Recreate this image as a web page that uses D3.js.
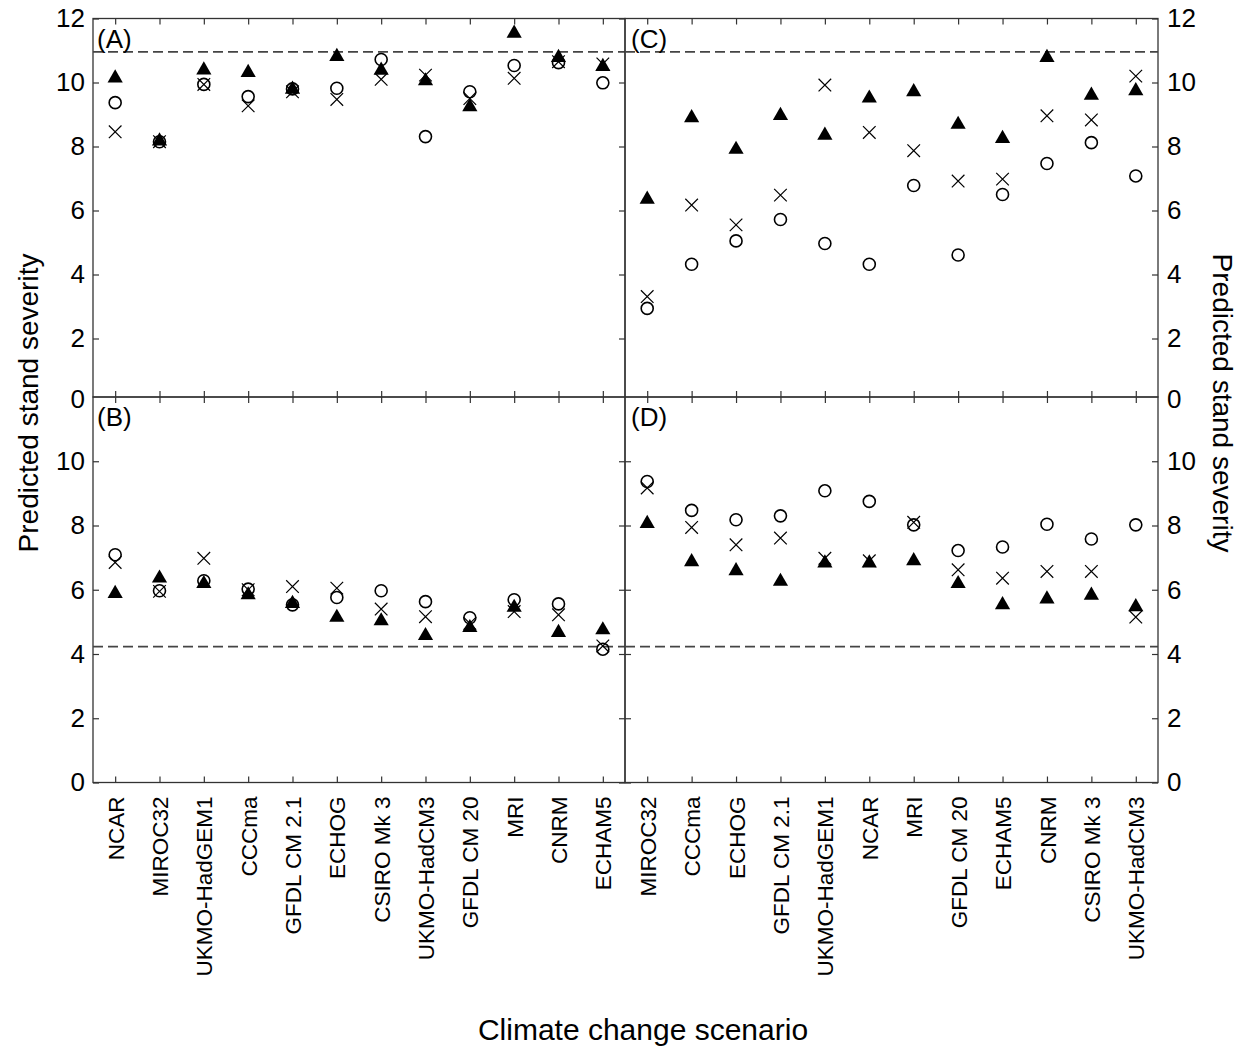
<!DOCTYPE html>
<html>
<head>
<meta charset="utf-8">
<script src="https://cdn.jsdelivr.net/npm/d3@7"></script>
<style>
  body { margin: 0; background: #fff; }
  svg { font-family: "Liberation Sans", Arial, sans-serif; }
</style>
</head>
<body>
<svg id="chart" width="1241" height="1052"></svg>
<script>
// scenario order differs between the left (A, B) and right (C, D) columns
const leftCats = ["NCAR", "MIROC32", "UKMO-HadGEM1", "CCCma", "GFDL CM 2.1", "ECHOG",
  "CSIRO Mk 3", "UKMO-HadCM3", "GFDL CM 20", "MRI", "CNRM", "ECHAM5"];
const rightCats = ["MIROC32", "CCCma", "ECHOG", "GFDL CM 2.1", "UKMO-HadGEM1", "NCAR",
  "MRI", "GFDL CM 20", "ECHAM5", "CNRM", "CSIRO Mk 3", "UKMO-HadCM3"];

const yTicks = [0, 2, 4, 6, 8, 10, 12];

// panel A
const triA = [10.17, 8.2, 10.42, 10.34, 9.82, 10.84, 10.41, 10.08, 9.27, 11.57, 10.81, 10.53];
const circA = [9.37, 8.15, 9.94, 9.56, 9.8, 9.82, 10.72, 8.31, 9.71, 10.53, 10.62, 9.99];
const crossA = [8.46, 8.15, 9.94, 9.27, 9.71, 9.47, 10.1, 10.23, 9.5, 10.13, 10.65, 10.58];
// panel B
const triB = [5.91, 6.39, 6.22, 5.87, 5.6, 5.17, 5.06, 4.6, 4.85, 5.48, 4.7, 4.78];
const circB = [7.09, 5.97, 6.28, 6.02, 5.53, 5.76, 5.97, 5.63, 5.13, 5.69, 5.56, 4.15];
const crossB = [6.85, 5.95, 6.98, 6.0, 6.1, 6.05, 5.4, 5.16, 4.95, 5.32, 5.22, 4.25];
// panel C
const triC = [6.38, 8.93, 7.94, 9.0, 8.38, 9.54, 9.74, 8.72, 8.28, 10.81, 9.63, 9.77];
const circC = [2.94, 4.32, 5.05, 5.72, 4.97, 4.32, 6.78, 4.61, 6.5, 7.47, 8.12, 7.08];
const crossC = [3.31, 6.17, 5.55, 6.48, 9.92, 8.44, 7.87, 6.92, 6.98, 8.96, 8.83, 10.2];
// panel D
const triD = [8.09, 6.9, 6.62, 6.29, 6.86, 6.86, 6.93, 6.22, 5.56, 5.74, 5.86, 5.5];
const circD = [9.37, 8.47, 8.18, 8.3, 9.08, 8.75, 8.02, 7.22, 7.33, 8.04, 7.58, 8.02];
const crossD = [9.17, 7.94, 7.4, 7.61, 6.98, 6.9, 8.1, 6.62, 6.36, 6.57, 6.57, 5.15];

// dashed reference levels
const refTop = 10.96;
const refBottom = 4.23;

const svg = d3.select("#chart");
const lineColor = "#333";

const xLeft = d3.scalePoint().domain(leftCats).range([93, 625]).padding(0.5);
const xRight = d3.scalePoint().domain(rightCats).range([625, 1158]).padding(0.5);
const yTop = d3.scaleLinear().domain([0, 12]).range([402.5, 18.5]);
const yBottom = d3.scaleLinear().domain([0, 12]).range([782.5, 397]);

const panels = [
  { label: "(A)", x: xLeft, y: yTop, top: 18.5, bottom: 397, tri: triA, circ: circA, cross: crossA, ref: refTop, side: "left" },
  { label: "(B)", x: xLeft, y: yBottom, top: 397, bottom: 782.5, tri: triB, circ: circB, cross: crossB, ref: refBottom, side: "left" },
  { label: "(C)", x: xRight, y: yTop, top: 18.5, bottom: 397, tri: triC, circ: circC, cross: crossC, ref: refTop, side: "right" },
  { label: "(D)", x: xRight, y: yBottom, top: 397, bottom: 782.5, tri: triD, circ: circD, cross: crossD, ref: refBottom, side: "right" }
];

const styleAxis = (g) => {
  g.select(".domain").remove();
  g.selectAll(".tick line").attr("stroke", lineColor).attr("stroke-width", 1.2);
  g.selectAll(".tick text").attr("fill", "#000").style("font-size", "26px");
};

panels.forEach((p) => {
  const [x0, x1] = p.x.range();
  const isTop = p.top < 100;
  const g = svg.append("g");

  // y ticks, pointing inward on both sides
  const vals = yTicks.filter((v) => isTop ? true : v < 12);
  const yl = d3.axisLeft(p.y).tickValues(vals).tickSize(-6).tickPadding(8);
  const yr = d3.axisRight(p.y).tickValues(vals).tickSize(-6).tickPadding(9);
  if (p.side === "left") {
    g.append("g").attr("transform", `translate(${x0},0)`).call(yl).call(styleAxis);
    g.append("g").attr("transform", `translate(${x1},0)`).call(yr.tickFormat("")).call(styleAxis);
  } else {
    if (!isTop) g.append("g").attr("transform", `translate(${x0},0)`).call(yl.tickFormat("")).call(styleAxis);
    g.append("g").attr("transform", `translate(${x1},0)`).call(yr).call(styleAxis);
  }
  // the 0 of the upper panels sits on the shared border: keep its label, drop its tick line
  if (isTop) {
    g.selectAll(".tick").filter((d) => d === 0).select("line").remove();
    g.selectAll(".tick").filter((d) => d === 0).select("text").attr("dy", "0.18em");
  }

  // x ticks on top and bottom borders
  g.append("g").attr("transform", `translate(0,${p.top})`)
    .call(d3.axisTop(p.x).tickSize(-6).tickFormat("")).call(styleAxis);
  const xb = g.append("g").attr("transform", `translate(0,${p.bottom})`)
    .call(d3.axisBottom(p.x).tickSize(-6).tickFormat(isTop ? "" : (d) => d)).call(styleAxis);
  if (!isTop) {
    xb.selectAll(".tick text")
      .attr("transform", "rotate(-90)")
      .attr("x", -14)
      .attr("y", 0)
      .attr("dy", "0.36em")
      .style("text-anchor", "end")
      .style("font-size", "22.5px");
  }

  // frame
  g.append("rect")
    .attr("x", x0).attr("y", p.top)
    .attr("width", x1 - x0).attr("height", p.bottom - p.top)
    .attr("fill", "none").attr("stroke", lineColor).attr("stroke-width", 1.3);

  // dashed reference line
  g.append("line")
    .attr("x1", x0).attr("x2", x1)
    .attr("y1", p.y(p.ref)).attr("y2", p.y(p.ref))
    .attr("stroke", "#444").attr("stroke-width", 1.8)
    .attr("stroke-dasharray", "10,5");

  // panel letter
  g.append("text")
    .attr("x", x0 + (p.side === "left" ? 4 : 6))
    .attr("y", p.top + 29)
    .style("font-size", "26px")
    .text(p.label);

  const cats = p.x.domain();

  // open circles
  g.selectAll("circle.pt")
    .data(p.circ)
    .join("circle")
    .attr("class", "pt")
    .attr("cx", (d, i) => p.x(cats[i]))
    .attr("cy", (d) => p.y(d))
    .attr("r", 6)
    .attr("fill", "none")
    .attr("stroke", "#000")
    .attr("stroke-width", 1.6);

  // filled triangles
  const tri = d3.symbol().type(d3.symbolTriangle).size(100);
  g.selectAll("path.tri")
    .data(p.tri)
    .join("path")
    .attr("class", "tri")
    .attr("d", tri)
    .attr("transform", (d, i) => `translate(${p.x(cats[i])},${p.y(d) + 1})`)
    .attr("fill", "#000");

  // crosses
  const s = 6.3;
  g.selectAll("path.cross")
    .data(p.cross)
    .join("path")
    .attr("class", "cross")
    .attr("d", `M${-s},${-s}L${s},${s}M${-s},${s}L${s},${-s}`)
    .attr("transform", (d, i) => `translate(${p.x(cats[i])},${p.y(d)})`)
    .attr("stroke", "#000")
    .attr("stroke-width", 1.2)
    .attr("fill", "none");
});

// axis titles
svg.append("text")
  .attr("transform", "translate(38,403) rotate(-90)")
  .style("text-anchor", "middle")
  .style("font-size", "28px")
  .text("Predicted stand severity");
svg.append("text")
  .attr("transform", "translate(1213,403) rotate(90)")
  .style("text-anchor", "middle")
  .style("font-size", "28px")
  .text("Predicted stand severity");
svg.append("text")
  .attr("x", 643)
  .attr("y", 1040)
  .style("text-anchor", "middle")
  .style("font-size", "30px")
  .text("Climate change scenario");
</script>
</body>
</html>
